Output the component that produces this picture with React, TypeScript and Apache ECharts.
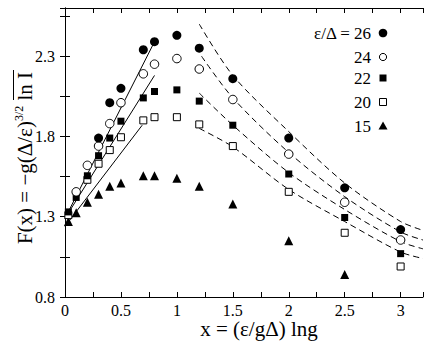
import React, { useEffect, useRef } from 'react';
import * as echarts from 'echarts';

const FONT = "'Liberation Serif', 'DejaVu Serif', serif";

// ---- data ----
const x26 = [0.3, 0.4, 0.5, 0.7, 0.8, 1.0, 1.2, 1.5, 2.0, 2.5, 3.0];
const y26 = [1.79, 2.01, 2.1, 2.34, 2.39, 2.43, 2.35, 2.16, 1.79, 1.48, 1.22];

const x24 = [0.1, 0.2, 0.3, 0.4, 0.5, 0.7, 0.8, 1.0, 1.2, 1.5, 2.0, 2.5, 3.0];
const y24 = [1.455, 1.62, 1.74, 1.88, 2.01, 2.19, 2.25, 2.285, 2.22, 2.03, 1.69, 1.39, 1.155];

const x22 = [0.03, 0.1, 0.2, 0.3, 0.4, 0.5, 0.7, 0.8, 1.0, 1.2, 1.5, 2.0, 2.5, 3.0];
const y22 = [1.33, 1.42, 1.555, 1.68, 1.79, 1.895, 2.04, 2.08, 2.09, 2.02, 1.87, 1.566, 1.295, 1.07];

const x20 = [0.03, 0.2, 0.3, 0.4, 0.5, 0.7, 0.8, 1.0, 1.2, 1.5, 2.0, 2.5, 3.0];
const y20 = [1.31, 1.53, 1.63, 1.715, 1.795, 1.9, 1.92, 1.92, 1.875, 1.74, 1.455, 1.2, 0.99];

const x15 = [0.03, 0.1, 0.2, 0.3, 0.4, 0.5, 0.7, 0.8, 1.0, 1.2, 1.5, 2.0, 2.5];
const y15 = [1.27, 1.325, 1.39, 1.44, 1.49, 1.51, 1.555, 1.555, 1.54, 1.49, 1.38, 1.15, 0.94];

// solid fit lines (small x)
const fitA = [[0, 1.29], [0.8, 2.39]];
const fitB = [[0, 1.29], [0.8, 2.18]];
const fitC = [[0, 1.24], [0.69, 1.87]];

// dashed curves (large x)
const tail26 = [[1.2, 2.5], [1.5, 2.18], [2.0, 1.83], [2.5, 1.51], [3.0, 1.27], [3.2, 1.215]];
const tail24 = [[1.22, 2.3], [1.5, 2.04], [2.0, 1.7], [2.5, 1.425], [3.0, 1.205], [3.2, 1.155]];
const tail22 = [[1.2, 2.07], [1.5, 1.87], [2.0, 1.575], [2.5, 1.345], [3.0, 1.145], [3.2, 1.1]];
const tail20 = [[1.2, 1.85], [1.5, 1.735], [2.0, 1.47], [2.5, 1.27], [3.0, 1.08], [3.2, 1.04]];

const legendLabels = ['ε/Δ = 26', '24', '22', '20', '15'];

const zip = (xs: number[], ys: number[]) => xs.map((x, i) => [x, ys[i]]);

const isMult = (v: number, base: number, step: number) => {
  const k = (v - base) / step;
  return Math.abs(k - Math.round(k)) < 1e-6;
};

const fmtX = (v: number) => (isMult(v, 0, 0.5) ? String(Math.round(v * 10) / 10) : '');
const fmtY = (v: number) => (isMult(v, 0.8, 0.5) ? (Math.round(v * 10) / 10).toFixed(1) : '');

const axisCommon = {
  axisLine: { show: true, lineStyle: { color: '#000', width: 1 } },
  axisTick: { show: true, inside: true, length: 5, lineStyle: { color: '#000', width: 1 } },
  splitLine: { show: false },
};

export default function App() {
  const ref = useRef<HTMLDivElement>(null);
  useEffect(() => {
    const chart = echarts.init(ref.current!, null, { renderer: 'svg' });
    const lineSeries = (data: number[][], dashed: boolean) => ({
      type: 'line',
      data,
      showSymbol: false,
      symbol: 'none',
      smooth: dashed ? 0.3 : false,
      silent: true,
      z: 1,
      lineStyle: { color: '#000', width: 1, type: dashed ? [6, 4] : 'solid' },
    });
    const scat = (data: number[][], symbol: string, size: number, open: boolean) => ({
      type: 'scatter',
      data,
      symbol,
      symbolSize: size,
      z: 3,
      itemStyle: open
        ? { color: '#fff', borderColor: '#000', borderWidth: 1, opacity: 1 }
        : { color: '#000', opacity: 1 },
    });
    const legendY = [33, 57, 78, 102, 126];
    const mx = 383;
    const option: any = {
      animation: false,
      backgroundColor: '#fff',
      textStyle: { fontFamily: FONT },
      grid: { left: 65, right: 13, top: 8, bottom: 46, containLabel: false },
      xAxis: [
        {
          type: 'value', min: 0, max: 3.2, interval: 0.25, position: 'bottom',
          ...axisCommon,
          axisLabel: { formatter: fmtX, color: '#000', fontFamily: FONT, fontSize: 16, margin: 5 },
        },
        {
          type: 'value', min: 0, max: 3.2, interval: 0.25, position: 'top',
          ...axisCommon,
          axisLabel: { show: false },
        },
      ],
      yAxis: [
        {
          type: 'value', min: 0.8, max: 2.6, interval: 0.25, position: 'left',
          ...axisCommon,
          axisLabel: { formatter: fmtY, color: '#000', fontFamily: FONT, fontSize: 16, margin: 10 },
        },
        {
          type: 'value', min: 0.8, max: 2.6, interval: 0.25, position: 'right',
          ...axisCommon,
          axisLabel: { show: false },
        },
      ],
      series: [
        lineSeries(fitA, false),
        lineSeries(fitB, false),
        lineSeries(fitC, false),
        lineSeries(tail26, true),
        lineSeries(tail24, true),
        lineSeries(tail22, true),
        lineSeries(tail20, true),
        scat(zip(x15, y15), 'triangle', 9, false),
        scat(zip(x20, y20), 'rect', 7, true),
        scat(zip(x22, y22), 'rect', 7, false),
        scat(zip(x24, y24), 'circle', 8.5, true),
        scat(zip(x26, y26), 'circle', 9, false),
      ],
      graphic: [
        ...legendLabels.map((t, i) => ({
          type: 'text',
          x: 371,
          y: legendY[i],
          style: {
            text: t,
            fontSize: 17,
            fontFamily: FONT,
            textAlign: 'right',
            textVerticalAlign: 'middle',
            fill: '#000',
          },
        })),
        { type: 'circle', shape: { cx: mx, cy: legendY[0], r: 4.3 }, style: { fill: '#000' } },
        { type: 'circle', shape: { cx: mx, cy: legendY[1], r: 3.6 }, style: { fill: '#fff', stroke: '#000', lineWidth: 1 } },
        { type: 'rect', shape: { x: mx - 3.5, y: legendY[2] - 3.5, width: 7, height: 7 }, style: { fill: '#000' } },
        { type: 'rect', shape: { x: mx - 3.5, y: legendY[3] - 3.5, width: 7, height: 7 }, style: { fill: '#fff', stroke: '#000', lineWidth: 1 } },
        {
          type: 'polygon',
          shape: { points: [[mx, legendY[4] - 4.5], [mx - 4.5, legendY[4] + 3.5], [mx + 4.5, legendY[4] + 3.5]] },
          style: { fill: '#000' },
        },
        {
          type: 'text',
          x: 259,
          y: 329,
          style: {
            text: 'x = (ε/gΔ) lng',
            fontSize: 21,
            fontFamily: FONT,
            textAlign: 'center',
            textVerticalAlign: 'middle',
            fill: '#000',
          },
        },
        {
          type: 'text',
          x: 25,
          y: 158,
          rotation: Math.PI / 2,
          style: {
            text: '{a|F(x) = −g(Δ/ε)}{s|3/2}{a| ln I}',
            rich: {
              a: { fontSize: 21, fontFamily: FONT, lineHeight: 24, fill: '#000' },
              s: { fontSize: 12, fontFamily: FONT, lineHeight: 12, verticalAlign: 'top', fill: '#000' },
            },
            textAlign: 'center',
            textVerticalAlign: 'middle',
            fill: '#000',
          },
        },
        {
          type: 'line',
          shape: { x1: 13.5, y1: 70, x2: 13.5, y2: 100 },
          style: { stroke: '#000', lineWidth: 1 },
        },
      ],
    };
    chart.setOption(option);
    return () => chart.dispose();
  }, []);
  return <div ref={ref} style={{ position: 'absolute', left: 0, top: 0, width: 436, height: 343 }} />;
}
